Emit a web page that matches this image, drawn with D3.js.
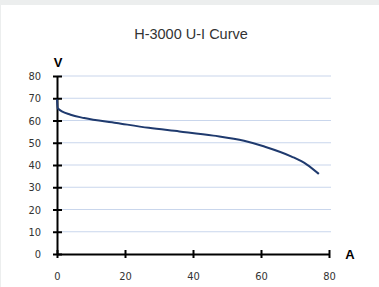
<!DOCTYPE html>
<html>
<head>
<meta charset="utf-8">
<script src="https://cdn.jsdelivr.net/npm/d3@7"></script>
<style>
  html, body { margin: 0; padding: 0; background: #eceeee; }
  #chart { position: absolute; left: 1px; top: 5px; width: 378px; height: 282px; background: #fff; }
  svg { display: block; }
</style>
</head>
<body>
<div id="chart"></div>
<script>
// Current (A) and voltage (V)
const current = [0, 0.2, 4, 8, 17.5, 27, 36, 46, 55, 61, 69, 73.5, 77];
const voltage = [69.5, 65.5, 62.6, 61.1, 58.9, 56.7, 55.1, 53.2, 50.9, 48.3, 43.8, 40.2, 36];
const xTicks = [0, 20, 40, 60, 80];
const yTicks = [0, 10, 20, 30, 40, 50, 60, 70, 80];

const width = 378, height = 282;
const margin = { top: 71, right: 50, bottom: 33, left: 56 };

const svg = d3.select("#chart").append("svg")
  .attr("width", width)
  .attr("height", height);

const x = d3.scaleLinear().domain([0, 80]).range([margin.left, width - margin.right]);
const y = d3.scaleLinear().domain([0, 80]).range([height - margin.bottom, margin.top]);

// Title
svg.append("text")
  .attr("x", 190)
  .attr("y", 34)
  .attr("text-anchor", "middle")
  .attr("fill", "#333")
  .style("font-family", "'Liberation Sans', Arial, sans-serif")
  .style("font-size", "14.5px")
  .text("H-3000 U-I Curve");

// Horizontal grid lines
svg.append("g")
  .selectAll("line")
  .data(yTicks.filter(d => d > 0))
  .join("line")
  .attr("x1", x(0))
  .attr("x2", x(80) + 2)
  .attr("y1", d => y(d))
  .attr("y2", d => y(d))
  .attr("stroke", "#c9d6ec")
  .attr("stroke-width", 1.2);

const labelFont = "'Liberation Sans Narrow', 'Arial Narrow', 'DejaVu Sans Condensed', sans-serif";

// Y axis
const yAxis = svg.append("g")
  .attr("transform", `translate(${x(0)},0)`)
  .call(d3.axisLeft(y).tickValues(yTicks).tickSize(0).tickPadding(16));
yAxis.select(".domain").attr("stroke", "#000").attr("stroke-width", 2);
yAxis.selectAll(".tick line").remove();
yAxis.selectAll(".tick").append("line")
  .attr("x1", -4).attr("x2", 5)
  .attr("stroke", "#000").attr("stroke-width", 2);
yAxis.selectAll("text")
  .attr("fill", "#333")
  .style("font-family", labelFont)
  .style("font-size", "11px");

// X axis
const xAxis = svg.append("g")
  .attr("transform", `translate(0,${y(0)})`)
  .call(d3.axisBottom(x).tickValues(xTicks).tickSize(0).tickPadding(18));
xAxis.select(".domain").attr("stroke", "#000").attr("stroke-width", 2);
xAxis.selectAll(".tick line").remove();
xAxis.selectAll(".tick").append("line")
  .attr("y1", -4).attr("y2", 4)
  .attr("stroke", "#000").attr("stroke-width", 2);
xAxis.selectAll("text")
  .attr("fill", "#333")
  .style("font-family", labelFont)
  .style("font-size", "11px");

// Axis unit labels
svg.append("text")
  .attr("x", x(0) + 1)
  .attr("y", 62)
  .attr("text-anchor", "middle")
  .style("font-family", "'Liberation Sans', Arial, sans-serif")
  .style("font-size", "13px")
  .style("font-weight", "bold")
  .text("V");

svg.append("text")
  .attr("x", 349)
  .attr("y", y(0) + 5)
  .attr("text-anchor", "middle")
  .style("font-family", "'Liberation Sans', Arial, sans-serif")
  .style("font-size", "13px")
  .style("font-weight", "bold")
  .text("A");

// U-I curve
const points = current.map((c, i) => ({ a: c, v: voltage[i] }));
svg.append("path")
  .datum(points)
  .attr("fill", "none")
  .attr("stroke", "#1f3a6e")
  .attr("stroke-width", 2)
  .attr("d", d3.line().x(d => x(d.a)).y(d => y(d.v)).curve(d3.curveMonotoneX));
</script>
</body>
</html>
